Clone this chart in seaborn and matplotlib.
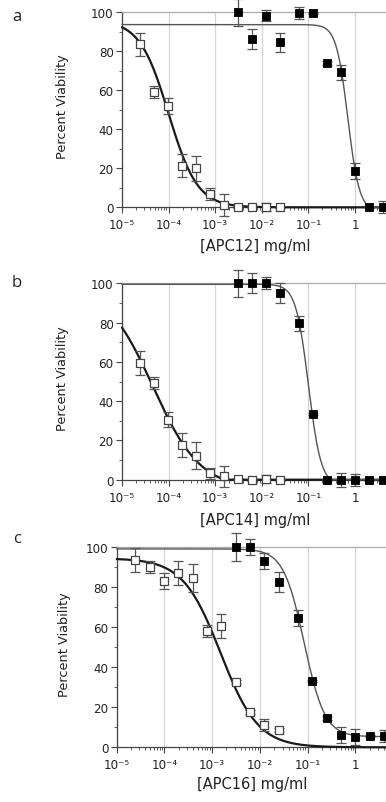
import numpy as np
import pandas as pd
import seaborn as sns
import matplotlib
matplotlib.use("Agg")
import matplotlib.pyplot as plt
from matplotlib.ticker import LogLocator, NullFormatter, FixedLocator

sns.set_style("ticks")
plt.rcParams['font.family'] = ['DejaVu Sans']

# ---------------- data ----------------
open_conc = [2.44e-5, 4.88e-5, 9.77e-5, 1.95e-4, 3.9e-4, 7.8e-4, 1.56e-3, 3.125e-3, 6.25e-3, 0.0125, 0.025]
filled_conc = [0.003125, 0.00625, 0.0125, 0.025, 0.0625, 0.125, 0.25, 0.5, 1, 2, 4]

a_open = [83.6, 59.0, 52.1, 21.4, 20.0, 6.8, 1.2, 0.0, 0.0, 0.3, 0.0]
a_open_err = [6, 3, 4, 6, 6.5, 3, 5.5, 0.5, 0.5, 2, 0.5]
a_filled = [100, 86.2, 98.3, 84.6, 99.6, 99.6, 74.2, 69.2, 18.6, 0.0, 0.0]
a_filled_err = [7, 5, 3, 5, 3, 0.5, 1, 4, 4, 0.5, 3]

b_open = [59.3, 49.1, 30.6, 17.8, 12.2, 3.2, 1.7, 0.3, 0.0, 0.5, 0.0]
b_open_err = [6, 3, 4, 6, 7, 3, 5.5, 0.5, 0.5, 2, 0.5]
b_filled = [100, 100, 100, 94.9, 79.6, 33.4, 0.0, 0.0, 0.0, 0.0, 0.0]
b_filled_err = [7, 5, 3, 5, 4, 0.5, 0.5, 3.5, 3, 0.5, 0.5]

c_open = [93.7, 90.0, 83.3, 87.0, 84.7, 58.0, 60.5, 32.8, 17.7, 11.3, 8.7]
c_open_err = [6, 3, 4, 6, 7, 3, 6, 1, 1, 3, 1]
c_filled = [100, 100, 93.2, 82.5, 64.8, 33.3, 14.7, 6.3, 5.3, 5.5, 5.7]
c_filled_err = [7, 4, 4, 5, 4, 0.5, 1, 4, 4, 0.5, 3]

# fitted logistic curve parameters: (top, bottom, IC50, hill)
a_open_fit = (96, 0, 1.0e-4, 1.4)
a_filled_fit = (93.7, -2, 0.7, 3.5)
b_open_fit = (100, -5, 4.6e-5, 0.85)
b_filled_fit = (99.5, -3, 0.1, 3.2)
c_open_fit = (94.5, 0, 1.5e-3, 1.1)
c_filled_fit = (99.2, 5.3, 0.085, 2.0)

xtick_vals = [1e-5, 1e-4, 1e-3, 1e-2, 1e-1, 1]
xtick_labels = ['10⁻⁵', '10⁻⁴', '10⁻³', '10⁻²', '10⁻¹', '1']
ytick_vals = [0, 20, 40, 60, 80, 100]

panels = [
    ('a', '[APC12] mg/ml', a_open, a_open_err, a_filled, a_filled_err, a_open_fit, a_filled_fit),
    ('b', '[APC14] mg/ml', b_open, b_open_err, b_filled, b_filled_err, b_open_fit, b_filled_fit),
    ('c', '[APC16] mg/ml', c_open, c_open_err, c_filled, c_filled_err, c_open_fit, c_filled_fit),
]

W, H = 386, 803
fig = plt.figure(figsize=(W / 100, H / 100), dpi=100)

# axes boxes in pixel coordinates: left, top(y=100), bottom(y=0), right(xlim max)
boxes = [(122, 13.3, 208.3, 387.6), (122, 284.3, 480.7, 387.6), (116.7, 548.3, 748.3, 388.6)]
letter_pos = [(17, 17), (17, 283), (17, 539)]
xlabel_pos = [(255, 247), (255, 521), (252, 785)]
ylabel_x = [69, 69, 71]


def logistic(x, p):
    top, bottom, c, h = p
    return bottom + (top - bottom) / (1 + (x / c) ** h)


xs = np.logspace(-5, np.log10(5), 400)

for i, (letter, xlab, o, oe, f, fe, ofit, ffit) in enumerate(panels):
    l, t, b, r = boxes[i]
    ax = fig.add_axes([l / W, 1 - b / H, (r - l) / W, (b - t) / H])
    ax.set_xscale('log')
    ax.set_xlim(1e-5, 5)
    ax.set_ylim(0, 100)

    curve_df = pd.DataFrame({
        'x': np.concatenate([xs, xs]),
        'y': np.concatenate([np.maximum(logistic(xs, ofit), 0), np.maximum(logistic(xs, ffit), 0)]),
        'series': ['open'] * len(xs) + ['filled'] * len(xs),
    })
    sns.lineplot(data=curve_df[curve_df.series == 'open'], x='x', y='y', ax=ax,
                 color='#1a1a1a', lw=1.6, zorder=3, clip_on=False)
    sns.lineplot(data=curve_df[curve_df.series == 'filled'], x='x', y='y', ax=ax,
                 color='#555555', lw=1.0, zorder=3, clip_on=False)

    ax.errorbar(open_conc, o, yerr=oe, fmt='none', ecolor='#555555', elinewidth=0.9,
                capsize=3.3, capthick=0.9, zorder=4, clip_on=False)
    ax.errorbar(filled_conc, f, yerr=fe, fmt='none', ecolor='#555555', elinewidth=0.9,
                capsize=3.3, capthick=0.9, zorder=4, clip_on=False)

    pts = pd.DataFrame({'x': open_conc + filled_conc, 'y': o + f,
                        'kind': ['open'] * len(o) + ['filled'] * len(f)})
    sns.scatterplot(data=pts[pts.kind == 'open'], x='x', y='y', ax=ax, marker='s', s=30,
                    facecolor='white', edgecolor='#444444', linewidth=0.9, zorder=5, clip_on=False)
    sns.scatterplot(data=pts[pts.kind == 'filled'], x='x', y='y', ax=ax, marker='s', s=36,
                    color='black', edgecolor='black', linewidth=0.6, zorder=5, clip_on=False)

    ax.xaxis.set_major_locator(FixedLocator(xtick_vals))
    ax.set_xticklabels(xtick_labels)
    ax.xaxis.set_minor_locator(LogLocator(base=10, subs=np.arange(2, 10), numticks=20))
    ax.xaxis.set_minor_formatter(NullFormatter())
    ax.set_yticks(ytick_vals)
    ax.set_yticks([10, 30, 50, 70, 90], minor=True)

    ax.grid(axis='x', which='major', color='#d4d4d4', lw=0.9, zorder=0)
    ax.set_axisbelow(True)
    ax.tick_params(axis='both', which='major', length=4, width=0.8, color='#444444',
                   labelsize=8.6, labelcolor='#222222', pad=2)
    ax.tick_params(axis='x', which='major', pad=4)
    ax.tick_params(axis='both', which='minor', length=2.5, width=0.6, color='#444444')
    for s in ['left', 'bottom']:
        ax.spines[s].set_color('#444444')
        ax.spines[s].set_linewidth(0.9)
    ax.spines['top'].set_color('#aaaaaa')
    ax.spines['top'].set_linewidth(0.9)
    ax.spines['right'].set_visible(False)

    ax.set_xlabel('')
    ax.set_ylabel('Percent Viability', fontsize=9.3, color='#222222')
    ax.yaxis.set_label_coords((ylabel_x[i] - l) / (r - l), 0.52)
    xx, xy = xlabel_pos[i]
    fig.text(xx / W, 1 - xy / H, xlab, ha='center', va='center', fontsize=10.5, color='#222222')
    lx, ly = letter_pos[i]
    fig.text(lx / W, 1 - ly / H, letter, ha='center', va='center', fontsize=12,
             family=['Open Sans', 'DejaVu Sans'], color='#222222')

fig.savefig('out.png', dpi=100)
